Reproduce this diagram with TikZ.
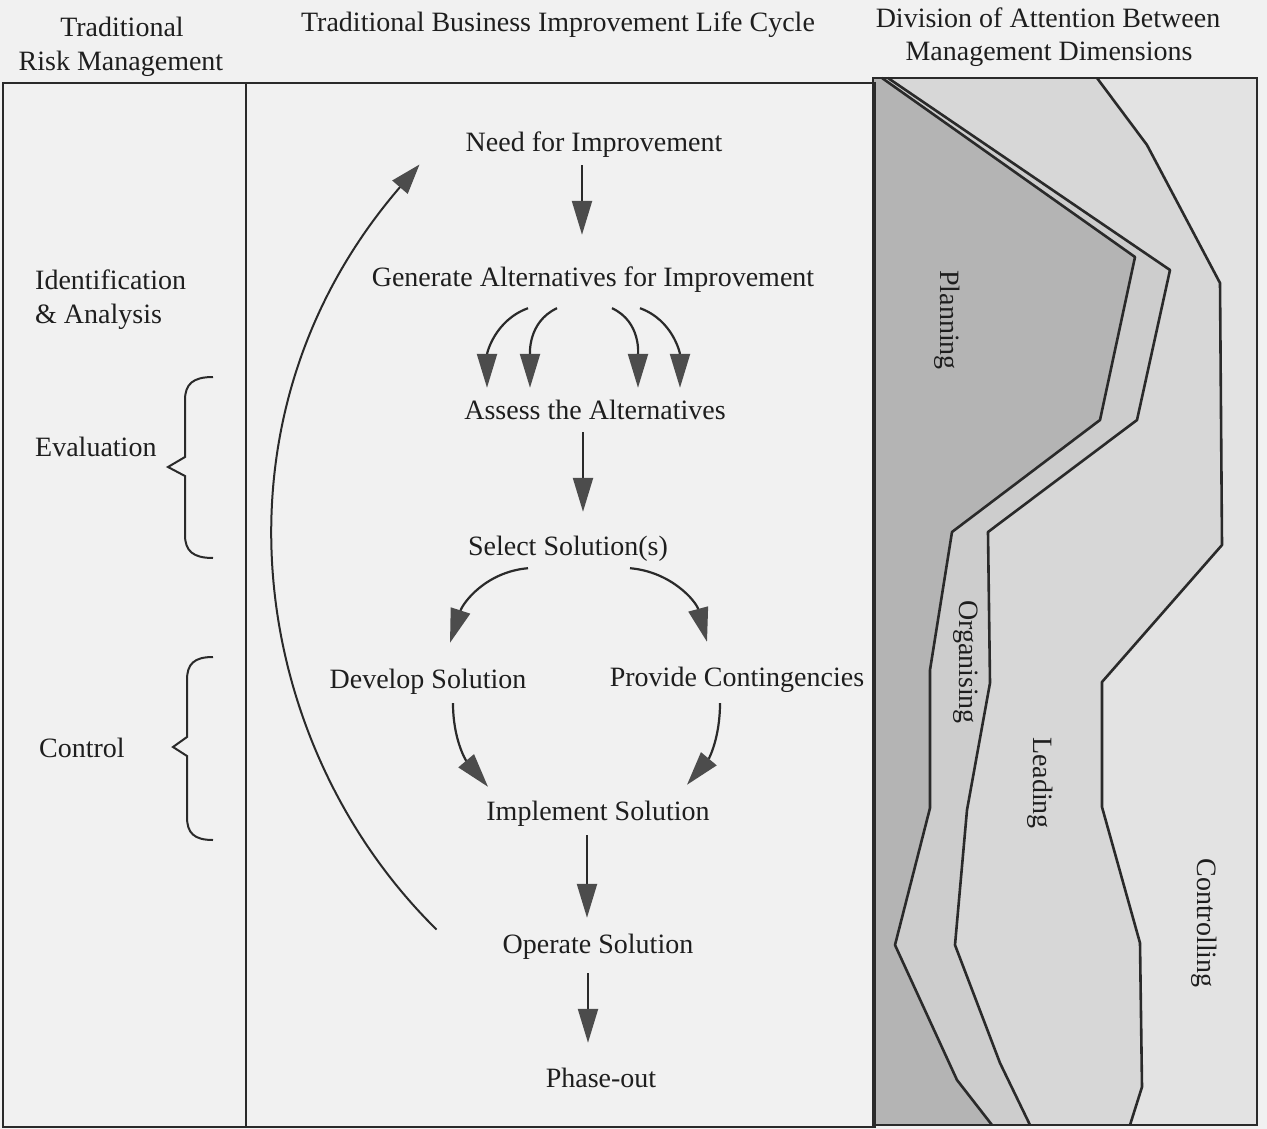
\documentclass[tikz,border=0pt]{standalone}
\usepackage{fontspec}
\setmainfont{Liberation Serif}
\usetikzlibrary{arrows.meta}
\definecolor{ink}{HTML}{2A2A2A}
\definecolor{textink}{HTML}{1E1E1E}
\definecolor{headfill}{HTML}{4C4C4C}
\definecolor{paper}{HTML}{F1F1F1}
\definecolor{planfill}{HTML}{B4B4B4}
\definecolor{orgfill}{HTML}{CDCDCD}
\definecolor{leadfill}{HTML}{D7D7D7}
\definecolor{ctrlfill}{HTML}{E3E3E3}
\begin{document}
\begin{tikzpicture}[x=1pt,y=-1pt,
  lbl/.style={font=\fontsize{28}{34}\selectfont, text=textink, inner sep=0pt,
              text height=19pt, text depth=6pt, anchor=base},
  lleft/.style={lbl, anchor=base west},
  dimlbl/.style={lbl, anchor=center, rotate=-90},
  arr/.style={draw=ink, line width=2.2pt,
              -{Triangle[length=34pt,width=20pt,color=headfill]}},
  loop/.style={draw=ink, line width=2pt,
              -{Triangle[length=30pt,width=20pt,color=headfill]}},
  frame/.style={draw=ink, line width=2.4pt},
  boundary/.style={draw=ink, line width=2.6pt, line join=round},
  brace/.style={draw=ink, line width=2pt, line join=miter}]

\useasboundingbox (0,0) rectangle (1267,1129);
\fill[paper] (0,0) rectangle (1267,1129);

% ---------- column headings ----------
\node[lbl] (h1a) at (122,37) {Traditional};
\node[lbl] (h1b) at (121,71) {Risk Management};
\node[lbl] (h2)  at (558,32) {Traditional Business Improvement Life Cycle};
\node[lbl] (h3a) at (1048,28) {Division of Attention Between};
\node[lbl] (h3b) at (1049,61) {Management Dimensions};

% ---------- management dimensions panel ----------
\fill[ctrlfill] (873,78) rectangle (1257,1125);
\fill[leadfill] (873,78) -- (1097,78) -- (1147,145) -- (1220,283) -- (1222,545)
  -- (1102,682) -- (1102,807) -- (1140,943) -- (1142,1087) -- (1130,1125)
  -- (873,1125) -- cycle;
\fill[orgfill] (873,78) -- (888,78) -- (1170,270) -- (1137,420) -- (988,532)
  -- (990,683) -- (967,810) -- (955,945) -- (1000,1063) -- (1030,1125)
  -- (873,1125) -- cycle;
\fill[planfill] (873,78) -- (882,78) -- (1135,257) -- (1100,420) -- (952,532)
  -- (930,670) -- (930,808) -- (895,945) -- (957,1080) -- (992,1125)
  -- (873,1125) -- cycle;
\draw[boundary] (882,78) -- (1135,257) -- (1100,420) -- (952,532)
  -- (930,670) -- (930,808) -- (895,945) -- (957,1080) -- (992,1125);
\draw[boundary] (888,78) -- (1170,270) -- (1137,420) -- (988,532)
  -- (990,683) -- (967,810) -- (955,945) -- (1000,1063) -- (1030,1125);
\draw[boundary] (1097,78) -- (1147,145) -- (1220,283) -- (1222,545)
  -- (1102,682) -- (1102,807) -- (1140,943) -- (1142,1087) -- (1130,1125);
\draw[frame] (873,78) rectangle (1257,1125);

\node[dimlbl] (plan) at (947,320) {Planning};
\node[dimlbl] (org)  at (966,662) {Organising};
\node[dimlbl] (lead) at (1040,783) {Leading};
\node[dimlbl] (ctrl) at (1204,923) {Controlling};

% ---------- main frame ----------
\draw[frame] (3,83) rectangle (875,1127);
\draw[frame] (246,83) -- (246,1127);

% ---------- risk management column ----------
\node[lleft] (ident) at (35,289) {Identification};
\node[lleft] (anal)  at (35,323) {\& Analysis};
\node[lleft] (eval)  at (35,456) {Evaluation};
\node[lleft] (ctl)   at (39,757) {Control};

\draw[brace] (213,377) .. controls (193,377) and (185,384) .. (185,400)
  -- (185,457) -- (168,467) -- (185,476) -- (185,535)
  .. controls (185,551) and (193,558) .. (213,558);
\draw[brace] (213,657) .. controls (194,657) and (187,664) .. (187,680)
  -- (187,737) -- (173,747) -- (187,756) -- (187,817)
  .. controls (187,833) and (194,840) .. (213,840);

% ---------- life cycle ----------
\node[lbl] (need)    at (594,152)  {Need for Improvement};
\node[lbl] (gen)     at (593,286)  {Generate Alternatives for Improvement};
\node[lbl] (assess)  at (595,419)  {Assess the Alternatives};
\node[lbl] (select)  at (568,555)  {Select Solution(s)};
\node[lbl] (develop) at (428,688)  {Develop Solution};
\node[lbl] (provide) at (737,686)  {Provide Contingencies};
\node[lbl] (impl)    at (598,820)  {Implement Solution};
\node[lbl] (operate) at (598,953)  {Operate Solution};
\node[lbl] (phase)   at (601,1087) {Phase-out};

\draw[arr] ([xshift=-12pt,yshift=-7pt]need.south)
  -- ([xshift=-11pt,yshift=32pt]gen.north);

\draw[arr] ([xshift=-65pt,yshift=-16pt]gen.south)
  to[out=200,in=90] ([xshift=-108pt,yshift=12pt]assess.north);
\draw[arr] ([xshift=-36pt,yshift=-16pt]gen.south)
  to[out=205,in=90] ([xshift=-65pt,yshift=12pt]assess.north);
\draw[arr] ([xshift=19pt,yshift=-16pt]gen.south)
  to[out=-25,in=90] ([xshift=43pt,yshift=12pt]assess.north);
\draw[arr] ([xshift=47pt,yshift=-16pt]gen.south)
  to[out=-20,in=90] ([xshift=85pt,yshift=12pt]assess.north);

\draw[arr] ([xshift=-12pt,yshift=-7pt]assess.south)
  -- ([xshift=15pt,yshift=24pt]select.north);

\draw[arr] ([xshift=-40pt,yshift=-7pt]select.south)
  to[out=185,in=72] ([xshift=22pt,yshift=26pt]develop.north);
\draw[arr] ([xshift=62pt,yshift=-7pt]select.south)
  to[out=-5,in=105] ([xshift=-30pt,yshift=25pt]provide.north);

\draw[arr] ([xshift=25pt,yshift=-9pt]develop.south)
  to[out=-90,in=130] ([xshift=-110pt,yshift=14pt]impl.north);
\draw[arr] ([xshift=-17pt,yshift=-11pt]provide.south)
  to[out=-90,in=50] ([xshift=89pt,yshift=16pt]impl.north);

\draw[arr] ([xshift=-11pt,yshift=-9pt]impl.south)
  -- ([xshift=-11pt,yshift=16pt]operate.north);
\draw[arr] ([xshift=-10pt,yshift=-14pt]operate.south)
  -- ([xshift=-13pt,yshift=25pt]phase.north);

% feedback from operation back to the start of the cycle
\draw[loop] ([xshift=-66pt,yshift=17pt]operate.west)
  .. controls +(-187,-184) and +(-220,255) ..
  ([xshift=-46pt,yshift=-19pt]need.west);

\end{tikzpicture}
\end{document}
